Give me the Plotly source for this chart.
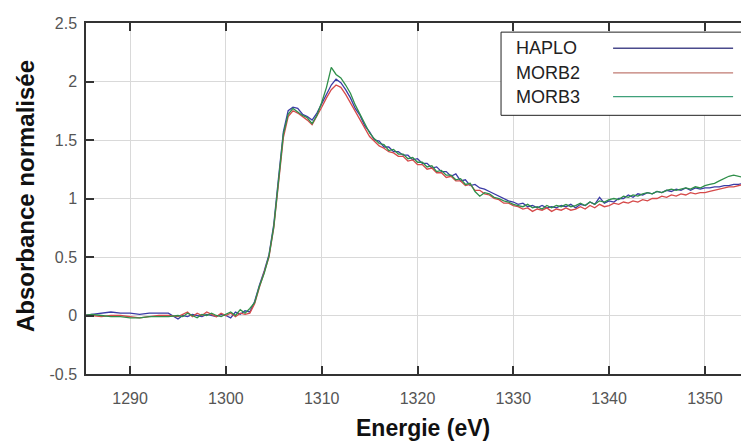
import plotly.graph_objects as go

# energie (eV)
energy = [
    1285, 1286, 1287, 1288, 1289, 1290, 1291, 1292, 1293, 1294, 1295,
    1295.5, 1296, 1296.5, 1297, 1297.5, 1298, 1298.5, 1299, 1299.5, 1300,
    1300.5, 1301, 1301.5, 1302, 1302.5,
    1303, 1303.5, 1304, 1304.5, 1305, 1305.5, 1306, 1306.5, 1307, 1307.5,
    1308, 1308.5, 1309, 1309.5, 1310, 1310.5, 1311, 1311.5, 1312,
    1312.5, 1313, 1313.5, 1314, 1314.5, 1315, 1315.5, 1316, 1316.5, 1317,
    1317.5, 1318, 1318.5, 1319, 1319.5, 1320, 1320.5, 1321, 1321.5, 1322,
    1322.5, 1323, 1323.5, 1324, 1324.5, 1325, 1325.5, 1326, 1326.5, 1327,
    1327.5, 1328, 1328.5, 1329, 1329.5, 1330,
    1330.5, 1331, 1331.5, 1332, 1332.5, 1333, 1333.5, 1334, 1334.5, 1335,
    1335.5, 1336, 1336.5, 1337, 1337.5, 1338, 1338.5, 1339, 1339.5, 1340,
    1340.5, 1341, 1341.5, 1342, 1342.5, 1343, 1343.5, 1344, 1344.5, 1345,
    1345.5, 1346, 1346.5, 1347, 1347.5, 1348, 1348.5, 1349, 1349.5, 1350,
    1350.5, 1351, 1351.5, 1352, 1352.5, 1353, 1353.5, 1354, 1354.5, 1355,
]

haplo = [
    0.00, 0.01, 0.02, 0.03, 0.02, 0.02, 0.01, 0.02, 0.02, 0.02, -0.03,
    0.00, -0.01, 0.01, 0.00, -0.01, 0.01, 0.00, -0.01, 0.01, 0.00,
    -0.02, 0.03, 0.01, 0.04, 0.03,
    0.12, 0.26, 0.38, 0.52, 0.78, 1.18, 1.57, 1.75, 1.78, 1.77,
    1.72, 1.70, 1.67, 1.73, 1.81, 1.90, 1.97, 2.02, 1.99,
    1.93, 1.86, 1.77, 1.71, 1.62, 1.57, 1.50, 1.49, 1.44, 1.44,
    1.40, 1.40, 1.37, 1.37, 1.33, 1.34, 1.30, 1.30, 1.26, 1.27,
    1.23, 1.23, 1.19, 1.21, 1.15, 1.16, 1.11, 1.12, 1.09, 1.08,
    1.06, 1.04, 1.02, 1.00, 0.98, 0.97,
    0.95, 0.96, 0.93, 0.94, 0.92, 0.94, 0.92, 0.93, 0.92, 0.94,
    0.93, 0.95, 0.92, 0.95, 0.94, 0.97, 0.95, 1.01, 0.96, 0.98,
    0.97, 1.00, 1.00, 1.03, 1.01, 1.04, 1.03, 1.05, 1.04, 1.06,
    1.05, 1.07, 1.06, 1.08, 1.07, 1.09, 1.07, 1.09, 1.08, 1.09,
    1.09, 1.10, 1.10, 1.11, 1.11, 1.12, 1.12, 1.13, 1.13, 1.14,
]

morb2 = [
    0.00, 0.00, -0.01, 0.00, 0.00, -0.01, -0.02, -0.01, 0.00, 0.00, -0.01,
    0.01, 0.03, -0.01, 0.02, 0.00, 0.03, 0.01, -0.01, 0.02, 0.00,
    0.02, -0.01, 0.02, 0.01, 0.02,
    0.10, 0.24, 0.37, 0.50, 0.75, 1.14, 1.52, 1.70, 1.75, 1.73,
    1.70, 1.67, 1.63, 1.70, 1.78, 1.86, 1.93, 1.97, 1.95,
    1.89, 1.82, 1.74, 1.67, 1.60, 1.53, 1.49, 1.45, 1.43, 1.40,
    1.39, 1.36, 1.36, 1.32, 1.33, 1.29, 1.29, 1.25, 1.26, 1.22,
    1.22, 1.18, 1.19, 1.15, 1.15, 1.11, 1.12, 1.07, 1.07, 1.04,
    1.03, 1.00, 0.99, 0.96, 0.96, 0.94,
    0.93, 0.91, 0.92, 0.89, 0.91, 0.90, 0.92, 0.89, 0.91, 0.90,
    0.92, 0.90, 0.91, 0.93, 0.91, 0.94, 0.92, 0.95, 0.93, 0.94,
    0.96, 0.95, 0.97, 0.96, 0.98, 0.97, 0.99, 0.98, 1.00, 1.00,
    1.02, 1.01, 1.03, 1.02, 1.04, 1.03, 1.05, 1.04, 1.05, 1.05,
    1.06, 1.07, 1.08, 1.09, 1.10, 1.10, 1.11, 1.12, 1.12, 1.13,
]

morb3 = [
    0.00, 0.01, 0.00, -0.01, -0.01, -0.02, -0.02, -0.01, -0.01, -0.01, 0.00,
    -0.01, 0.02, 0.00, -0.02, 0.01, 0.00, 0.02, 0.00, -0.01, 0.01,
    0.03, 0.00, 0.05, 0.02, 0.06,
    0.11, 0.25, 0.36, 0.51, 0.76, 1.16, 1.55, 1.72, 1.77, 1.74,
    1.71, 1.69, 1.64, 1.71, 1.82, 1.95, 2.12, 2.06, 2.03,
    1.97, 1.90, 1.80, 1.72, 1.63, 1.56, 1.51, 1.47, 1.46, 1.41,
    1.42, 1.38, 1.38, 1.34, 1.35, 1.31, 1.31, 1.27, 1.28, 1.23,
    1.24, 1.20, 1.20, 1.16, 1.17, 1.12, 1.13, 1.06, 1.02, 1.05,
    1.04, 1.01, 1.00, 0.98, 0.97, 0.95,
    0.94, 0.93, 0.95, 0.92, 0.93, 0.91, 0.94, 0.92, 0.94, 0.93,
    0.95, 0.93, 0.94, 0.96, 0.94, 0.97, 0.95, 0.98, 0.97, 0.99,
    1.00, 0.99, 1.02, 1.01, 1.03, 1.02, 1.04, 1.05, 1.04, 1.06,
    1.05, 1.07, 1.08, 1.07, 1.08, 1.09, 1.08, 1.10, 1.09, 1.11,
    1.12, 1.13, 1.15, 1.17, 1.19, 1.20, 1.19, 1.18, 1.17, 1.16,
]

names = ["HAPLO", "MORB2", "MORB3"]
series = [haplo, morb2, morb3]
colors = ["#3b3ba6", "#d64a4a", "#2f8f4a"]
legend_colors = ["#4a4a8c", "#c07a72", "#3fa07a"]

x_ticks = [1290, 1300, 1310, 1320, 1330, 1340, 1350]
y_ticks = [-0.5, 0, 0.5, 1, 1.5, 2, 2.5]
y_ticklabels = ["-0.5", "0", "0.5", "1", "1.5", "2", "2.5"]

fig = go.Figure()
for name, ys, col in zip(names, series, colors):
    fig.add_trace(go.Scatter(x=energy, y=ys, mode="lines", name=name,
                             line=dict(color=col, width=1.3), showlegend=False))

font = "Liberation Sans, Arial, sans-serif"
axis_common = dict(
    showgrid=True, gridcolor="#d9d9d9", gridwidth=1,
    showline=True, linecolor="#333333", linewidth=1.5,
    ticks="inside", ticklen=8, tickcolor="#333333", tickwidth=1.5,
    tickfont=dict(family=font, size=16, color="#555555"),
    zeroline=False, automargin=False,
)
fig.update_xaxes(range=[1285.4, 1354.6], tickvals=x_ticks, mirror="ticks",
                 ticklabelstandoff=9, **axis_common)
fig.update_yaxes(range=[-0.5, 2.5], tickvals=y_ticks, ticktext=y_ticklabels,
                 mirror=False, ticklabelstandoff=4, **axis_common)

# axis titles
fig.add_annotation(x=0.508, y=-0.154, xref="paper", yref="paper",
                   text="<b>Energie (eV)</b>", showarrow=False,
                   xanchor="center", yanchor="middle",
                   font=dict(family=font, size=23, color="#111111"))
fig.add_annotation(x=-0.092, y=0.507, xref="paper", yref="paper",
                   text="<b>Absorbance normalisée</b>", showarrow=False,
                   textangle=-90, xanchor="center", yanchor="middle",
                   font=dict(family=font, size=24, color="#111111"))

# legend box: names on the left, line samples on the right
fig.add_shape(type="rect", xref="paper", yref="paper", x0=0.626, x1=1.02,
              y0=0.737, y1=0.974, line=dict(color="#222222", width=1),
              fillcolor="white", layer="above")
row_y = [0.928, 0.858, 0.790]
for name, col, yy in zip(names, legend_colors, row_y):
    fig.add_annotation(x=0.645, y=yy, xref="paper", yref="paper", text=name,
                       showarrow=False, xanchor="left", yanchor="middle",
                       font=dict(family=font, size=18, color="#222222"))
    fig.add_shape(type="line", xref="paper", yref="paper", x0=0.795, x1=0.976,
                  y0=yy, y1=yy, line=dict(color=col, width=1.3), layer="above")

# the page body adds an 8px offset, so the figure is sized to fit the window
fig.update_layout(
    width=741, height=433,
    margin=dict(l=78, r=0, t=15, b=67, autoexpand=False),
    plot_bgcolor="white", paper_bgcolor="white",
)
fig.write_html("out.html")
